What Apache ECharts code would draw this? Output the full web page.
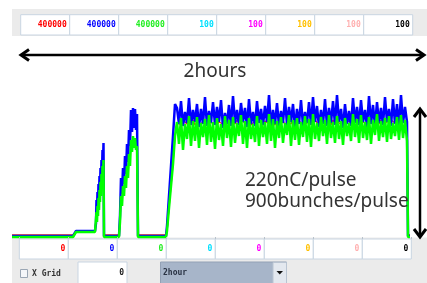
<!DOCTYPE html>
<html>
<head>
<meta charset="utf-8">
<script src="https://cdn.jsdelivr.net/npm/echarts@6/dist/echarts.min.js"></script>
<style>
  html, body { margin: 0; padding: 0; background: #fff; }
  #chart { width: 427px; height: 283px; }
</style>
</head>
<body>
<div id="chart"></div>
<script>
// time axis (arbitrary units, 0 .. 398 across the trace window)
const timeX = [0, 61, 64, 83,
    84, 84.5, 85, 85.5, 86, 86.5, 87, 87.5, 88, 88.5, 89, 89.5, 90, 90.5, 91, 91.5,
    92, 107,
    108, 109, 110, 111, 112, 113, 114, 115, 116, 117, 118, 119, 120, 121, 122, 123, 124, 125,
    126, 154, 155, 157, 159, 161, 163,
    165, 167, 169, 171, 173, 175, 177, 179, 181, 183, 185, 187, 189, 191, 193, 195, 197, 199,
    201, 203, 205, 207, 209, 211, 213, 215, 217, 219, 221, 223, 225, 227, 229, 231, 233, 235,
    237, 239, 241, 243, 245, 247, 249, 251, 253, 255, 257, 259, 261, 263, 265, 267, 269, 271,
    273, 275, 277, 279, 281, 283, 285, 287, 289, 291, 293, 295, 297, 299, 301, 303, 305, 307,
    309, 311, 313, 315, 317, 319, 321, 323, 325, 327, 329, 331, 333, 335, 337, 339, 341, 343,
    345, 347, 349, 351, 353, 355, 357, 359, 361, 363, 365, 367, 369, 371, 373, 375, 377, 379,
    381, 383, 385, 387, 389, 391, 393, 395,
    396, 398];

const blueVals = [0, 0, 5, 5,
    13, 36, 24, 44, 30, 52, 38, 60, 46, 68, 54, 76, 62, 86, 70, 93,
    0, 0,
    20, 58, 42, 68, 52, 80, 62, 92, 74, 106, 90, 126, 104, 128, 108, 127, 106, 122,
    0, 0, 10, 40, 70, 100, 132,
    128, 112, 135, 110, 124, 113, 138, 111, 126, 114,
    132, 109, 127, 112, 139, 110, 125, 113, 134, 111,
    129, 114, 136, 108, 123, 112, 131, 110, 140, 113,
    126, 111, 133, 114, 128, 109, 137, 112, 124, 110,
    135, 113, 127, 111, 130, 114, 141, 109, 126, 112,
    133, 110, 125, 113, 138, 111, 129, 114, 132, 108,
    127, 112, 136, 110, 124, 113, 134, 111, 139, 114,
    130, 109, 126, 112, 137, 110, 128, 113, 135, 111,
    141, 114, 127, 108, 132, 112, 125, 110, 138, 113,
    129, 111, 136, 114, 126, 109, 140, 112, 131, 110,
    134, 113, 128, 111, 139, 114, 127, 110, 137, 112,
    132, 109, 141, 113, 129, 114,
    0, 0];

const greenVals = [-1, -1, 4, 4,
    6, 24, 14, 30, 20, 38, 26, 46, 34, 54, 40, 62, 48, 70, 56, 76,
    -1, -1,
    14, 40, 30, 50, 40, 60, 48, 70, 58, 82, 70, 96, 84, 100, 88, 98, 86, 90,
    -1, -1, 5, 28, 50, 72, 100,
    114, 92, 118, 86, 112, 97, 120, 90, 115, 95,
    119, 88, 113, 99, 117, 91, 121, 94, 114, 87,
    118, 96, 112, 90, 120, 98, 116, 89, 119, 93,
    113, 100, 121, 92, 115, 88, 118, 97, 112, 94,
    120, 90, 116, 99, 114, 92, 122, 95, 117, 88,
    115, 98, 119, 93, 113, 101, 121, 90, 116, 96,
    118, 91, 114, 99, 120, 94, 117, 89, 122, 97,
    113, 95, 119, 100, 116, 92, 121, 98, 114, 93,
    120, 97, 115, 91, 118, 100, 113, 95, 122, 99,
    117, 93, 121, 98, 114, 96, 119, 92, 116, 101,
    122, 95, 115, 99, 118, 94, 120, 97, 113, 100,
    119, 96, 121, 98, 116, 95,
    -1, -1];

const redVals = [1, 1, 4, 4,
    6, 24, 14, 30, 20, 38, 26, 46, 34, 54, 40, 62, 48, 70, 56, 76,
    1, 1,
    14, 40, 30, 50, 40, 60, 48, 70, 58, 82, 70, 96, 84, 100, 88, 98, 86, 90,
    1, 1, 5, 28, 50, 72, 100,
    113, 115, 111, 116, 114, 112, 115, 113, 116, 111,
    114, 116, 112, 115, 113, 111, 116, 114, 112, 115,
    111, 114, 116, 112, 115, 113, 111, 116, 114, 112,
    116, 113, 111, 115, 112, 114, 116, 111, 113, 115,
    112, 116, 114, 111, 115, 113, 112, 116, 114, 111,
    115, 112, 113, 116, 111, 114, 115, 112, 116, 113,
    111, 115, 116, 112, 114, 113, 111, 115, 112, 116,
    114, 111, 112, 116, 113, 115, 114, 111, 116, 112,
    116, 113, 115, 111, 112, 116, 114, 113, 111, 115,
    113, 116, 111, 114, 115, 112, 116, 113, 114, 111,
    115, 112, 116, 113, 111, 114, 112, 116, 115, 113,
    112, 115, 113, 116, 114, 112,
    1, 1];

// scale boxes above and below the trace
const topLabels = ["400000", "400000", "400000", "100", "100", "100", "100", "100"];
const bottomLabels = ["0", "0", "0", "0", "0", "0", "0", "0"];
const boxColors = ["#ff0000", "#0000ff", "#22ee22", "#00e0ff", "#ff00ff", "#ffc000", "#ffb0b0", "#000000"];

const chart = echarts.init(document.getElementById("chart"));

const pairs = vals => timeX.map((t, i) => [t, vals[i]]);

const mono = "bold 8px 'DejaVu Sans Mono', monospace";
const sans = "19px 'Noto Sans', sans-serif";
const graphics = [];

// grey panels
graphics.push({ type: "rect", z: 0, shape: { x: 12, y: 9, width: 415, height: 27 }, style: { fill: "#ebebeb" } });
graphics.push({ type: "rect", z: 0, shape: { x: 12, y: 237.5, width: 415, height: 45.5 }, style: { fill: "#ebebeb" } });

topLabels.forEach((s, i) => {
    const x = 20.7 + i * 49;
    graphics.push({ type: "rect", z: 1, shape: { x: x, y: 14.7, width: 49, height: 20.3 },
        style: { fill: "#fff", stroke: "#c9d5e2", lineWidth: 1 } });
    graphics.push({ type: "text", z: 2, x: x + 46, y: 25,
        style: { text: s, font: mono, fill: boxColors[i], align: "right", verticalAlign: "middle" } });
});
bottomLabels.forEach((s, i) => {
    const x = 19.3 + i * 49;
    graphics.push({ type: "rect", z: 1, shape: { x: x, y: 239, width: 49, height: 20 },
        style: { fill: "#fff", stroke: "#c9d5e2", lineWidth: 1 } });
    graphics.push({ type: "text", z: 2, x: x + 46, y: 249,
        style: { text: s, font: mono, fill: boxColors[i], align: "right", verticalAlign: "middle" } });
});

// checkbox, input, dropdown
graphics.push({ type: "rect", z: 1, shape: { x: 20.5, y: 269.5, width: 7, height: 8 },
    style: { fill: "#f4f6f9", stroke: "#9aa6b4", lineWidth: 1 } });
graphics.push({ type: "text", z: 2, x: 32, y: 273.5,
    style: { text: "X Grid", font: mono, fill: "#333", verticalAlign: "middle" } });
graphics.push({ type: "rect", z: 1, shape: { x: 78, y: 262, width: 49, height: 22 },
    style: { fill: "#fff", stroke: "#c9d5e2", lineWidth: 1 } });
graphics.push({ type: "text", z: 2, x: 124, y: 272.5,
    style: { text: "0", font: mono, fill: "#222", align: "right", verticalAlign: "middle" } });
graphics.push({ type: "rect", z: 1, shape: { x: 160.5, y: 262, width: 126, height: 22 },
    style: { fill: "#a7b5c9", stroke: "#93a1b5", lineWidth: 1 } });
graphics.push({ type: "rect", z: 1, shape: { x: 273, y: 262.5, width: 13.5, height: 21 },
    style: { fill: "#e3e8ef", stroke: "#b9c4d2", lineWidth: 1 } });
graphics.push({ type: "polygon", z: 2, shape: { points: [[276.5, 271], [283, 271], [279.75, 274.5]] },
    style: { fill: "#111" } });
graphics.push({ type: "text", z: 2, x: 163, y: 272.5,
    style: { text: "2hour", font: mono, fill: "#2a3344", verticalAlign: "middle" } });

// annotation arrows and text
const arrowStyle = { stroke: "#000", lineWidth: 3, fill: null, lineJoin: "miter" };
graphics.push({ type: "line", z: 10, shape: { x1: 21, y1: 55, x2: 424, y2: 55 }, style: { stroke: "#000", lineWidth: 2.5 } });
graphics.push({ type: "polyline", z: 10, shape: { points: [[29, 49.5], [21, 55], [29, 60.5]] }, style: arrowStyle });
graphics.push({ type: "polyline", z: 10, shape: { points: [[416, 49.5], [424, 55], [416, 60.5]] }, style: arrowStyle });
graphics.push({ type: "text", z: 10, x: 215, y: 72,
    style: { text: "2hours", font: sans, fill: "#333", align: "center", verticalAlign: "middle" } });

graphics.push({ type: "line", z: 10, shape: { x1: 420, y1: 110, x2: 420, y2: 236 }, style: { stroke: "#000", lineWidth: 2.5 } });
graphics.push({ type: "polyline", z: 10, shape: { points: [[414, 117], [420, 109], [426, 117]] }, style: arrowStyle });
graphics.push({ type: "polyline", z: 10, shape: { points: [[414, 229], [420, 237], [426, 229]] }, style: arrowStyle });
graphics.push({ type: "text", z: 10, x: 245, y: 181,
    style: { text: "220nC/pulse", font: sans, fill: "#333", verticalAlign: "middle" } });
graphics.push({ type: "text", z: 10, x: 245, y: 202,
    style: { text: "900bunches/pulse", font: sans, fill: "#333", verticalAlign: "middle" } });

const option = {
    animation: false,
    backgroundColor: "#fff",
    grid: [
        { left: 12, right: 17, top: 86, bottom: 47 },
        { left: 19.3, width: 392, top: 236, height: 1 }
    ],
    xAxis: [
        { type: "value", gridIndex: 0, min: 0, max: 398, show: false },
        { type: "value", gridIndex: 1, min: 0, max: 8, interval: 1, z: 5,
          axisLine: { show: false }, axisLabel: { show: false }, splitLine: { show: false },
          axisTick: { show: true, length: 2, lineStyle: { color: "#b8c2cc" } } }
    ],
    yAxis: [
        { type: "value", gridIndex: 0, min: 0, max: 150, show: false },
        { type: "value", gridIndex: 1, show: false }
    ],
    series: [
        { name: "red", type: "line", data: pairs(redVals), showSymbol: false, clip: false, z: 2,
          lineStyle: { color: "#ff2a00", width: 1.3 } },
        { name: "blue", type: "line", data: pairs(blueVals), showSymbol: false, clip: false, z: 3,
          lineStyle: { color: "#0000ff", width: 2.5 } },
        { name: "green", type: "line", data: pairs(greenVals), showSymbol: false, clip: false, z: 4,
          lineStyle: { color: "#00ff00", width: 2.5 } }
    ],
    graphic: graphics
};
chart.setOption(option);
</script>
</body>
</html>
